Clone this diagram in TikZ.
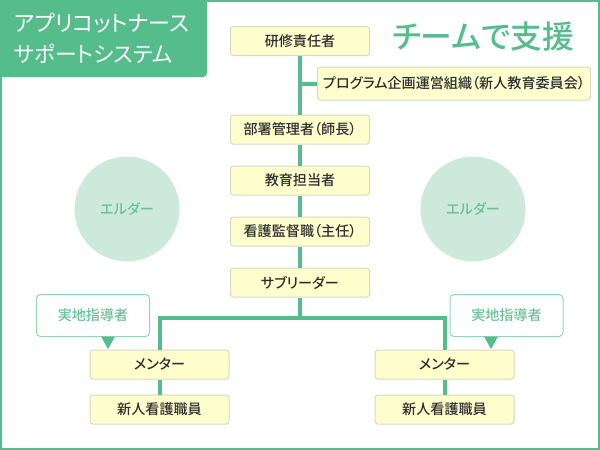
\documentclass[tikz,border=0pt]{standalone}
\usepackage{fontspec}
\setmainfont[RawFeature=+palt,BoldFont={Noto Sans CJK JP Medium}]{Noto Sans CJK JP}
\definecolor{grn}{HTML}{55BC8C}
\definecolor{pale}{HTML}{FFFFCE}
\definecolor{edge}{HTML}{D8D8C6}
\definecolor{circ}{HTML}{CCE9DC}
\definecolor{circt}{HTML}{69C199}
\definecolor{gedge}{HTML}{96D5B8}
\definecolor{ink}{HTML}{2E2E2E}
\tikzset{x=1pt,y=-1pt,
 rolebox/.style={draw=edge,line width=1pt,fill=pale,rounded corners=3pt,minimum height=29pt,inner sep=0pt,font=\bfseries\fontsize{14.1}{14.1}\selectfont,text=ink},
 elder/.style={circle,fill=circ,minimum size=105pt,inner sep=0pt,text=circt,font=\bfseries\fontsize{14.1}{14.1}\selectfont},
 guide/.style={draw=gedge,line width=1pt,fill=white,rounded corners=4pt,minimum width=113pt,minimum height=42pt,inner sep=0pt,text=circt,font=\bfseries\fontsize{14.1}{14.1}\selectfont},
 link/.style={draw=grn,line width=4pt},
 pointer/.style={fill=grn}}
\begin{document}
\begin{tikzpicture}
\useasboundingbox (0,0) rectangle (600,450);
\fill[white] (0,0) rectangle (600,450);
\draw[grn,line width=2pt] (1,1) rectangle (599,449);
\fill[grn,rounded corners=4pt] (-10,-10) rectangle (207,77);
\node[anchor=west,inner sep=0pt,text=white,font=\fontsize{22}{22}\selectfont] (t1) at (14,23) {アプリコットナース};
\node[anchor=west,inner sep=0pt,text=white,font=\fontsize{21.7}{21.7}\selectfont] (t2) at (14,54) {サポートシステム};
\node[text=grn,font=\bfseries\fontsize{31.7}{31.7}\selectfont] (ttl) at (483,37) {チームで支援};
\node[elder] (e1) at (127,209) {エルダー};
\node[elder] (e2) at (473,209) {エルダー};
\coordinate (tr) at (300,318);
\coordinate (br) at (300,84);
\node[rolebox,minimum width=139pt] (a) at (300,41) {研修責任者};
\node[rolebox,minimum width=139pt] (c) at (300,129.5) {部署管理者（師長）};
\node[rolebox,minimum width=139pt] (d) at (300,180.5) {教育担当者};
\node[rolebox,minimum width=139pt] (e) at (300,231.5) {看護監督職（主任）};
\node[rolebox,minimum width=139pt] (f) at (300,282.5) {サブリーダー};
\node[rolebox,minimum width=273pt,minimum height=33pt] (b) at (454,83.5) {プログラム企画運営組織（新人教育委員会）};
\node[rolebox,minimum width=139pt] (m1) at (159.5,364.5) {メンター};
\node[rolebox,minimum width=139pt] (m2) at (444.5,364.5) {メンター};
\node[rolebox,minimum width=139pt] (n1) at (159.5,409.5) {新人看護職員};
\node[rolebox,minimum width=139pt] (n2) at (444.5,409.5) {新人看護職員};
\node[guide] (g1) at (93,315.5) {実地指導者};
\node[guide] (g2) at (506.5,315.5) {実地指導者};
\draw[link] (a) -- (c);
\draw[link] (c) -- (d);
\draw[link] (d) -- (e);
\draw[link] (e) -- (f);
\draw[link] (f) -- (tr);
\draw[link] (br) -- (b);
\draw[link] (m1) |- (tr) -| (m2);
\draw[link] (m1) -- (n1);
\draw[link] (m2) -- (n2);
\fill[pointer] (101,336.5) -- (115,336.5) -- (108,349) -- cycle;
\fill[pointer] (484,336.5) -- (498,336.5) -- (491,349) -- cycle;
\end{tikzpicture}
\end{document}
